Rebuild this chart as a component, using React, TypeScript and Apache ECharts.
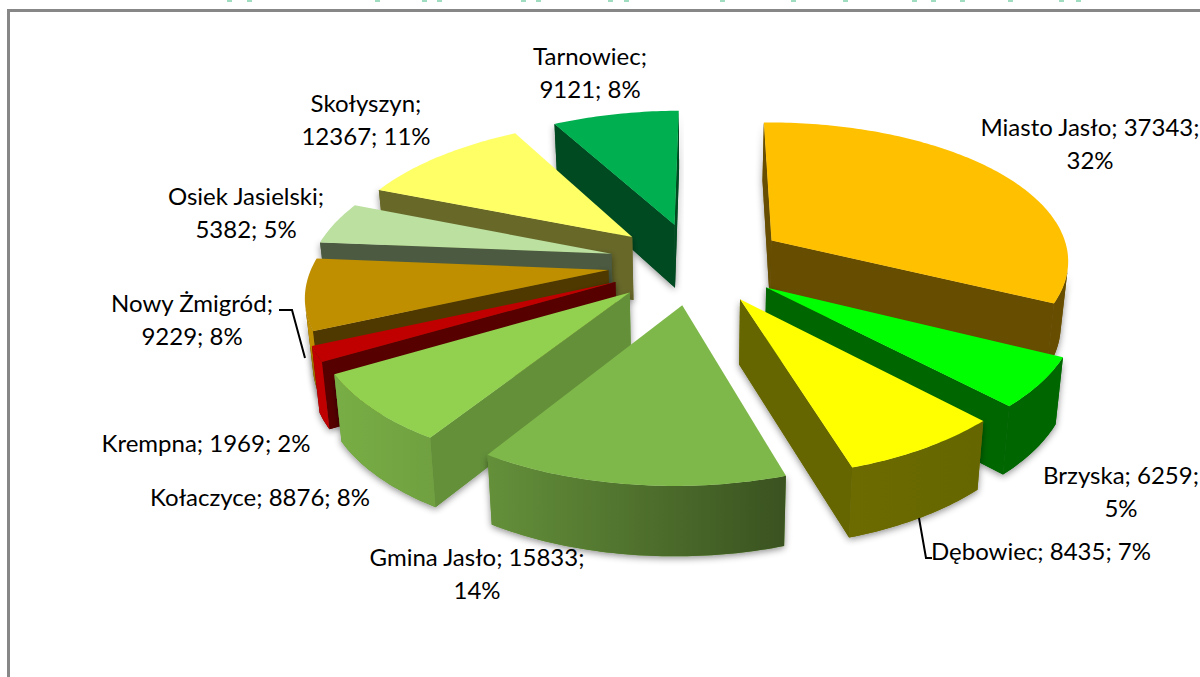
import React, { useEffect, useRef } from "react";
import * as echarts from "echarts";

const names = ["Miasto Jasło","Brzyska","Dębowiec","Gmina Jasło","Kołaczyce","Krempna","Nowy Żmigród","Osiek Jasielski","Skołyszyn","Tarnowiec"];
const values = [37343,6259,8435,15833,8876,1969,9229,5382,12367,9121];
const percents = [32,5,7,14,8,2,8,5,11,8];
const topColors = ["#FFC000","#00FF00","#FFFF00","#7FB84A","#92D050","#C00000","#BF8F00","#BBE0A0","#FFFF66","#00B050"];
const cutColors = ["#664D00","#006600","#666600","#64903A","#64903A","#570000","#4F3900","#4B5A40","#686829","#004A22"];
const rimLeft = ["#664D00","#006600","#6B6B00","#64903A","#78AE45","#C00000","#BF8F00","#4B5A40","#686829","#004A22"];
const rimRight = ["#664D00","#006600","#666600","#3A5220","#70A040","#C00000","#BF8F00","#4B5A40","#686829","#004A22"];

const labelLines = [
  ["Miasto Jasło; 37343;","32%"],["Brzyska; 6259;","5%"],["Dębowiec; 8435; 7%"],["Gmina Jasło; 15833;","14%"],
  ["Kołaczyce; 8876; 8%"],["Krempna; 1969; 2%"],["Nowy Żmigród;","9229; 8%"],["Osiek Jasielski;","5382; 5%"],
  ["Skołyszyn;","12367; 11%"],["Tarnowiec;","9121; 8%"],
];
const labelCenters = [[1090,143],[1121,491],[1041,550],[477,573],[260,496],[206,442],[192,319],[246,212],[366,119],[590,72]];
const clippedTitleMarks = [227,247,375,422,437,521,536,608,624,720,791,843,912,931,960,1008,1059,1076];

const START = -1, CX = 695, CY = 263, BX = 300, AY = 141, PX = 0.14, PY = 0.144, SHEAR = 6, DROP = 64, SHRINK = 0.98;
const explode = [0.305,0.29,0.29,0.29,0.29,0.29,0.29,0.29,0.29,0.29];
const radius = [1,1,1,1,1,1,0.985,1,1,1];
const total = values.reduce((a, b) => a + b, 0);
const rad = (d: number) => (d * Math.PI) / 180;

function project(X: number, Y: number): number[] {
  return [CX + (BX * X) / (1 - PX * Y) - SHEAR * Y, CY + (AY * Y) / (1 - PY * Y)];
}
function projectLow(X: number, Y: number): number[] {
  const p = project(X, Y);
  return [CX + (p[0] - CX) * SHRINK, p[1] + DROP + 5 * Y];
}
const area = (a: number[], b: number[], c: number[]) => (b[0]-a[0])*(c[1]-a[1]) - (b[1]-a[1])*(c[0]-a[0]);

function sliceAngles(i: number) {
  let acc = 0;
  for (let k = 0; k < i; k++) acc += values[k];
  const a0 = START + (acc / total) * 360;
  const a1 = a0 + (values[i] / total) * 360;
  return [a0, a1];
}
function apexY(i: number) {
  const [a0, a1] = sliceAngles(i);
  return -Math.cos(rad((a0 + a1) / 2));
}
const drawOrder = values.map((_, i) => i).sort((a, b) => apexY(a) - apexY(b));

function renderItem(_: any, api: any) {
  const i = api.value(0) as number;
  const val = api.value(1) as number;
  const [a0] = sliceAngles(i);
  const a1 = a0 + (val / total) * 360;
  const mid = rad((a0 + a1) / 2);
  const ox = Math.sin(mid) * explode[i], oy = -Math.cos(mid) * explode[i];
  const steps = Math.max(6, Math.ceil(a1 - a0));
  const world: number[][] = [];
  for (let k = 0; k <= steps; k++) {
    const t = rad(a0 + ((a1 - a0) * k) / steps);
    world.push([ox + radius[i] * Math.sin(t), oy - radius[i] * Math.cos(t)]);
  }
  const top = world.map((w) => project(w[0], w[1]));
  const low = world.map((w) => projectLow(w[0], w[1]));
  const apexT = project(ox, oy), apexL = projectLow(ox, oy);
  const faces: { points: number[][]; fill: any }[] = [];

  const addCut = (t: number[], l: number[], visible: boolean) => {
    if (visible) faces.push({ points: [apexT, t, l, apexL], fill: cutColors[i] });
  };
  addCut(top[0], low[0], area(apexT, top[0], apexL) < 0);
  addCut(top[steps], low[steps], area(apexT, top[steps], apexL) > 0);

  const vis: number[] = [];
  for (let k = 0; k < steps; k++) {
    if (area(top[k], top[k + 1], low[k]) < 0) vis.push(k);
  }
  if (vis.length) {
    const idx = [...vis, vis[vis.length - 1] + 1];
    faces.push({
      points: idx.map((k) => top[k]).concat(idx.map((k) => low[k]).reverse()),
      fill: new echarts.graphic.LinearGradient(0, 0, 1, 0, [
        { offset: 0, color: rimLeft[i] },
        { offset: 1, color: rimRight[i] },
      ]),
    });
  }
  const children: any[] = [];
  faces.forEach((f) => children.push({ type: "polygon", shape: { points: f.points },
    style: { fill: cutColors[i], shadowBlur: 7, shadowColor: "rgba(0,0,0,0.45)", shadowOffsetY: 2 } }));
  faces.forEach((f) => children.push({ type: "polygon", shape: { points: f.points }, style: { fill: f.fill } }));
  children.push({ type: "polygon", shape: { points: [apexT, ...top] }, style: { fill: topColors[i] } });
  return { type: "group", children };
}

export default function App() {
  const ref = useRef<HTMLDivElement>(null);
  useEffect(() => {
    const chart = echarts.init(ref.current!, null, { renderer: "svg" });
    const labelGraphics = labelLines.map((lines, i) => ({
      type: "text", x: labelCenters[i][0], y: labelCenters[i][1], z: 10,
      style: {
        text: lines.join("\n"), fill: "#000", fontFamily: "Lato", fontSize: 24,
        align: "center", verticalAlign: "middle", lineHeight: 33,
      },
    }));
    chart.setOption({
      animation: false,
      backgroundColor: "#fff",
      series: [{
        type: "custom",
        coordinateSystem: "none",
        renderItem,
        silent: true,
        data: drawOrder.map((i) => [i, values[i], names[i], percents[i]]),
      }],
      graphic: [
        { type: "rect", z: 0, shape: { x: 8.5, y: 10.5, width: 1300, height: 800 }, style: { fill: "none", stroke: "#878787", lineWidth: 3 } },
        ...clippedTitleMarks.map((x) => ({ type: "rect", z: 0, shape: { x, y: 0, width: 5, height: 2 }, style: { fill: "#9FDCC0" } })),
        { type: "polyline", z: 9, shape: { points: [[279, 310], [292, 310], [305, 358]] }, style: { fill: "none", stroke: "#000", lineWidth: 2 } },
        { type: "polyline", z: 9, shape: { points: [[919, 518], [926, 558], [932, 558]] }, style: { fill: "none", stroke: "#000", lineWidth: 2 } },
        ...labelGraphics,
      ],
    });
    return () => chart.dispose();
  }, []);
  return <div ref={ref} style={{ position: "fixed", left: 0, top: 0, width: 1200, height: 677 }} />;
}
